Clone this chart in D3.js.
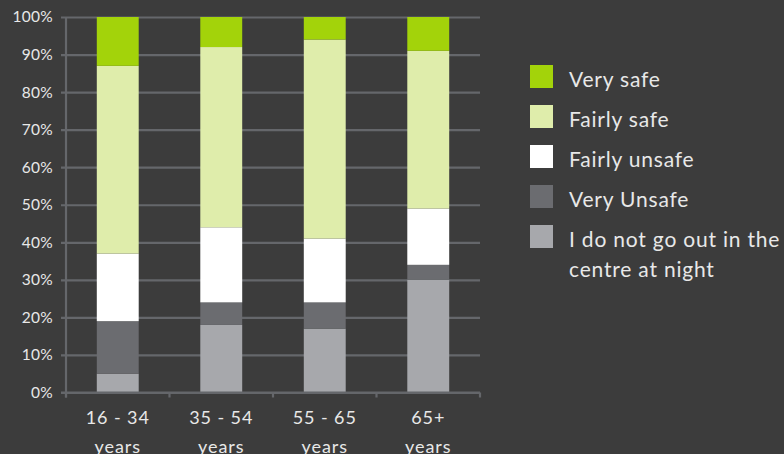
<!DOCTYPE html>
<html><head><meta charset="utf-8">
<script src="https://cdn.jsdelivr.net/npm/d3@7"></script>
<style>
html,body{margin:0;padding:0;background:#3c3c3c;}
svg{display:block;}
text{font-family:Lato, "Open Sans", sans-serif;fill:#e8e8e8;}
</style></head>
<body>
<svg id="c" width="784" height="454"></svg>
<script>
const categories = [["16 - 34","years"],["35 - 54","years"],["55 - 65","years"],["65+","years"]];
const seriesNames = ["I do not go out in the centre at night","Very Unsafe","Fairly unsafe","Fairly safe","Very safe"];
const notGoOut     = [5, 18, 17, 30];
const veryUnsafe   = [14, 6, 7, 4];
const fairlyUnsafe = [18, 20, 17, 15];
const fairlySafe   = [50, 48, 53, 42];
const verySafe     = [13, 8, 6, 9];
const yTicks = [0,10,20,30,40,50,60,70,80,90,100];
const colors = ["#a7a8ac","#6b6c70","#ffffff","#dfedab","#a3d30a"];

const svg = d3.select("#c");
const x0 = 66, x1 = 480, yTop = 17, yBot = 392.5;
const cats = categories.map(c => c.join(" "));
const x = d3.scaleBand().domain(cats).range([x0, x1]).paddingInner(0).paddingOuter(0);
const y = d3.scaleLinear().domain([0,100]).range([yBot, yTop]);

const rows = cats.map((c,i) => ({cat:c, s0:notGoOut[i], s1:veryUnsafe[i], s2:fairlyUnsafe[i], s3:fairlySafe[i], s4:verySafe[i]}));
const stack = d3.stack().keys(["s0","s1","s2","s3","s4"])(rows);

const yAxis = d3.axisLeft(y).tickValues(yTicks).tickFormat(d => d + "%").tickSize(-(x1 - x0)).tickPadding(8);
const gy = svg.append("g").attr("transform", `translate(${x0},0)`).call(yAxis);
gy.select(".domain").remove();
gy.selectAll(".tick line").attr("stroke", "#65676b").attr("stroke-width", 2.2).attr("x1", -5);
gy.selectAll(".tick text").attr("font-size", 15.5).attr("letter-spacing", 0.3).attr("fill", "#e8e8e8").attr("x", -13);

svg.append("line").attr("x1", x0).attr("x2", x0).attr("y1", yTop).attr("y2", yBot + 5).attr("stroke", "#65676b").attr("stroke-width", 2.2);
const bw = x.bandwidth() * 0.405;
svg.append("g").selectAll("g").data(stack).join("g")
  .attr("fill", (d,i) => colors[i])
  .selectAll("rect").data(d => d).join("rect")
  .attr("x", d => x(d.data.cat) + (x.bandwidth() - bw) / 2)
  .attr("width", bw)
  .attr("y", d => y(d[1]))
  .attr("height", d => y(d[0]) - y(d[1]));

const xAxis = d3.axisBottom(x).tickSize(0);
svg.append("line").attr("x1", x0 - 5).attr("x2", x1).attr("y1", yBot).attr("y2", yBot).attr("stroke", "#65676b").attr("stroke-width", 2.2);
const bounds = cats.map(c => x(c)).concat([x1]);
svg.append("g").selectAll("line").data(bounds).join("line")
  .attr("x1", d => d).attr("x2", d => d).attr("y1", yBot).attr("y2", yBot + 5)
  .attr("stroke", "#65676b").attr("stroke-width", 2.2);

const gx = svg.append("g").attr("transform", `translate(0,${yBot})`).call(xAxis);
gx.select(".domain").remove();
gx.selectAll(".tick text").remove();
gx.selectAll(".tick").each(function(d, i) {
  const t = d3.select(this).append("text").attr("text-anchor", "middle").attr("font-size", 18).attr("letter-spacing", 0.9).attr("fill", "#e8e8e8");
  categories[i].forEach((ln, j) => t.append("tspan").attr("x", 0).attr("y", 31 + j * 29).text(ln));
});

const legendOrder = [4,3,2,1,0];
const lg = svg.append("g");
legendOrder.forEach((si, k) => {
  const yy = 65 + k * 40;
  lg.append("rect").attr("x", 530).attr("y", yy).attr("width", 23).attr("height", 23).attr("fill", colors[si]);
  const t = lg.append("text").attr("x", 569).attr("y", yy + 22).attr("font-size", 21).attr("letter-spacing", 0.8).attr("fill", "#e8e8e8");
  if (si === 0) {
    t.append("tspan").attr("x", 569).text("I do not go out in the");
    t.append("tspan").attr("x", 569).attr("dy", 30).text("centre at night");
  } else {
    t.text(seriesNames[si]);
  }
});
</script>
</body></html>
